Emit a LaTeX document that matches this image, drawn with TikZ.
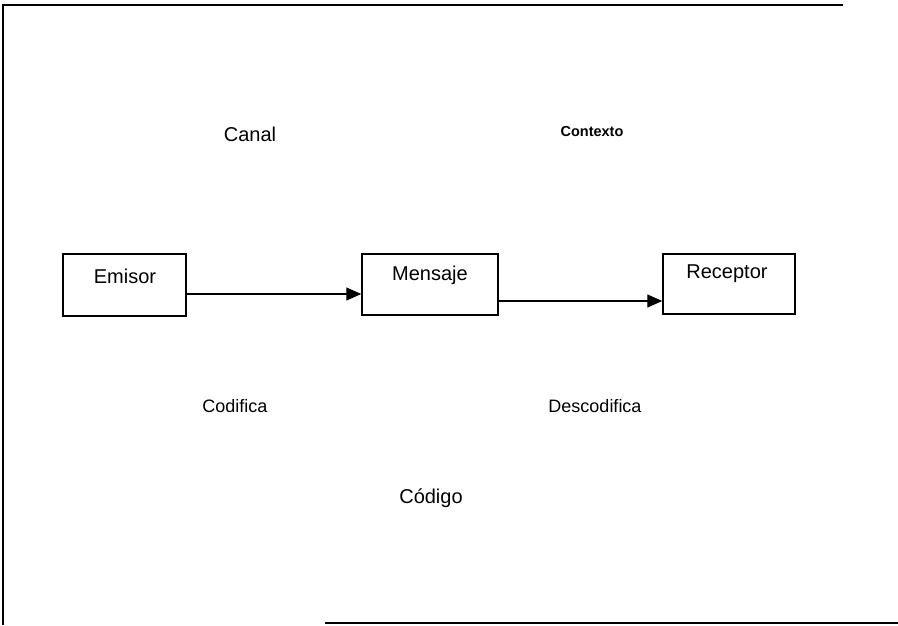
\documentclass[tikz,border=0pt]{standalone}
\usepackage{fontspec}
\setmainfont{Liberation Sans}
\usetikzlibrary{arrows.meta}
\begin{document}
\begin{tikzpicture}[x=1pt,y=-1pt,
  box/.style={draw, line width=1.5pt, inner sep=0pt, rectangle},
  lbl/.style={font=\fontsize{20}{24}\selectfont, inner sep=0pt, anchor=base},
  small/.style={font=\fontsize{18}{22}\selectfont, inner sep=0pt, anchor=base},
  tiny/.style={font=\bfseries\fontsize{14.5}{18}\selectfont, inner sep=0pt, anchor=base},
  conn/.style={line width=1.4pt, -{Triangle[length=15pt,width=13pt]}},
  frame/.style={line width=2pt}]
\useasboundingbox (0,0) rectangle (898,625);
% frame (scanned, partial)
\coordinate (ftr) at (843,4.5);
\coordinate (ftl) at (3,4.5);
\coordinate (fbl) at (3,625);
\coordinate (fbs) at (325,622.5);
\coordinate (fbe) at (898,622.5);
\draw[frame] (ftr) -- (ftl) -- (fbl);
\draw[frame] (fbs) -- (fbe);
% boxes
\node[box, minimum width=123pt, minimum height=62pt] (emisor) at (124.5,285) {};
\node[box, minimum width=136pt, minimum height=61pt] (mensaje) at (430,284.5) {};
\node[box, minimum width=132pt, minimum height=60pt] (receptor) at (729,284) {};
\node[lbl] (temisor) at (125,283) {Emisor};
\node[lbl] (tmensaje) at (430,280) {Mensaje};
\node[lbl] (treceptor) at (727,278) {Receptor};
% connectors
\draw[conn] ([yshift=-9pt]emisor.east) -- ([yshift=-9.5pt]mensaje.west);
\draw[conn] ([yshift=-16.5pt]mensaje.east) -- ([yshift=-17pt]receptor.west);
% labels
\node[lbl] (canal) at (250,141) {Canal};
\node[tiny] (contexto) at (592,136) {Contexto};
\node[small] (codifica) at (235,412) {Codifica};
\node[small] (descodifica) at (595,412) {Descodifica};
\node[lbl] (codigo) at (431,503) {Código};
\end{tikzpicture}
\end{document}
